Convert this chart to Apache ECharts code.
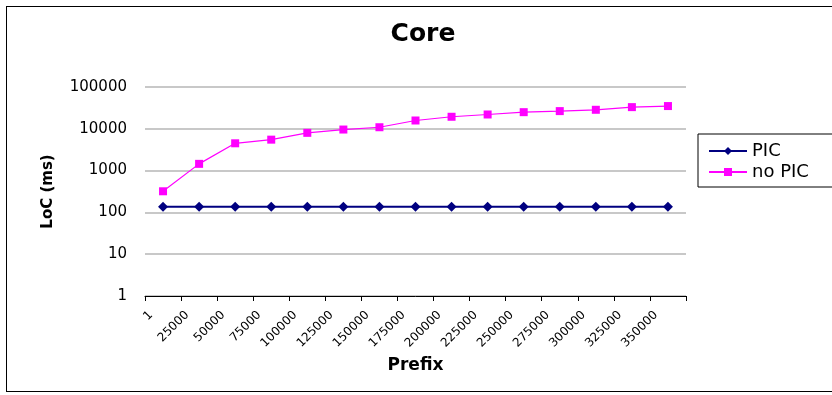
<!DOCTYPE html>
<html>
<head>
<meta charset="utf-8">
<script src="https://cdn.jsdelivr.net/npm/echarts@6/dist/echarts.min.js"></script>
<style>
  html, body { margin: 0; padding: 0; background: #fff; }
  #frame { position: absolute; left: 6px; top: 6px; width: 840px; height: 386px; border: 1px solid #000; box-sizing: border-box; }
  #chart { position: absolute; left: 0; top: 0; width: 832px; height: 395px; }
</style>
</head>
<body>
<div id="frame"></div>
<div id="chart"></div>
<script>
// Prefix sizes on the category axis
const prefixes = ['1', '25000', '50000', '75000', '100000', '125000', '150000', '175000',
  '200000', '225000', '250000', '275000', '300000', '325000', '350000'];

// Time in ms, with and without PIC
const picValues = [136, 136, 136, 136, 136, 136, 136, 136, 136, 136, 136, 136, 136, 136, 136];
const noPicValues = [320, 1450, 4500, 5500, 8000, 9600, 10900, 15800, 19400, 22000, 25000, 26500, 28500, 33000, 35000];

const chart = echarts.init(document.getElementById('chart'), null, { renderer: 'canvas' });
const font = 'DejaVu Sans, Liberation Sans, Arial, sans-serif';

chart.setOption({
  animation: false,
  backgroundColor: 'transparent',
  title: {
    text: 'Core',
    left: 423,
    top: 22,
    padding: 0,
    textAlign: 'center',
    textStyle: { fontFamily: font, fontSize: 25, fontWeight: 'bold', color: '#000' }
  },
  legend: {
    orient: 'vertical',
    left: 698,
    top: 134,
    padding: [7, 40, 5, 10],
    itemGap: 1,
    itemWidth: 38,
    itemHeight: 10,
    borderColor: '#000',
    borderWidth: 1,
    textStyle: { fontFamily: font, fontSize: 18, lineHeight: 20, color: '#000' },
    data: ['PIC', 'no PIC']
  },
  grid: { left: 145, right: 146, top: 87, bottom: 99 },
  xAxis: {
    type: 'category',
    data: prefixes,
    boundaryGap: true,
    name: 'Prefix',
    nameLocation: 'middle',
    nameGap: 56,
    nameTextStyle: { fontFamily: font, fontSize: 17, fontWeight: 'bold', color: '#000' },
    axisLine: { show: true, lineStyle: { color: '#000', width: 1 } },
    axisTick: { show: true, alignWithLabel: false, length: 5, lineStyle: { color: '#000' } },
    axisLabel: {
      rotate: 45, fontFamily: font, fontSize: 12, color: '#000', margin: 5, interval: 0,
      padding: [0, 17, 0, 0]
    },
    splitLine: { show: false }
  },
  yAxis: {
    type: 'log',
    logBase: 10,
    min: 1,
    max: 100000,
    name: 'LoC (ms)',
    nameLocation: 'middle',
    nameGap: 89,
    nameTextStyle: { fontFamily: font, fontSize: 15, fontWeight: 'bold', color: '#000' },
    axisLine: { show: false },
    axisTick: { show: false },
    axisLabel: { fontFamily: font, fontSize: 15, color: '#000', margin: 18, formatter: v => String(v) },
    splitLine: { show: true, lineStyle: { color: '#c8c8c8', width: 2 } }
  },
  series: [
    {
      name: 'PIC',
      type: 'line',
      data: picValues,
      symbol: 'diamond',
      symbolSize: 10,
      itemStyle: { color: '#000080' },
      lineStyle: { color: '#000080', width: 2 },
      z: 3
    },
    {
      name: 'no PIC',
      type: 'line',
      data: noPicValues,
      symbol: 'rect',
      symbolSize: 8,
      itemStyle: { color: '#ff00ff' },
      lineStyle: { color: '#ff00ff', width: 1.2 },
      z: 4
    }
  ]
});
</script>
</body>
</html>
